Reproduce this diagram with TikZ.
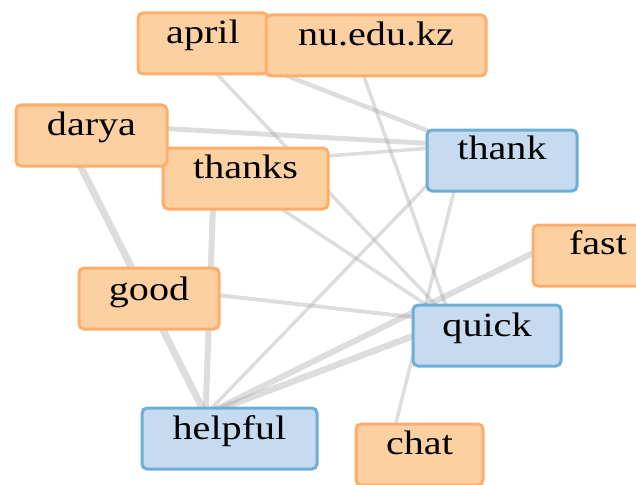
\documentclass[tikz,border=0pt]{standalone}
\usepackage{fontspec}
\setmainfont{Liberation Serif}
\usetikzlibrary{calc,backgrounds}
\definecolor{ofill}{HTML}{FDD0A2}
\definecolor{oline}{HTML}{FDAE6B}
\definecolor{bfill}{HTML}{C6DBEF}
\definecolor{bline}{HTML}{6BAED6}
\newcommand\lbl[1]{\scalebox{1.18}[1]{#1}}
\tikzset{
  box/.style={rectangle, rounded corners=5pt, line width=3pt, anchor=north west,
    inner xsep=0pt, inner ysep=0pt, minimum height=61pt,
    text height=30.5pt, text depth=30.5pt,
    font=\fontsize{34}{37}\selectfont},
  obox/.style={box, draw=oline, fill=ofill},
  bbox/.style={box, draw=bline, fill=bfill},
  link/.style={draw=black!40, draw opacity=0.33, line cap=butt},
}
\begin{document}
\begin{tikzpicture}[x=1pt,y=-1pt]
\useasboundingbox (0,0) rectangle (636,484);
\clip (0,0) rectangle (636,484);
\node[obox, minimum width=165pt] (thanks) at (161.5,146.5) {\lbl{thanks}};
\node[obox, minimum width=151pt] (darya) at (14.5,103.5) {\lbl{darya}};
\node[obox, minimum width=130pt] (april) at (136.5,11.5) {\lbl{april}};
\node[obox, minimum width=220pt] (nu) at (264.5,13.5) {\lbl{nu.edu.kz}};
\node[bbox, minimum width=150pt, text height=29.5pt, text depth=31.5pt] (thank) at (425.5,128.5) {\lbl{thank}};
\node[obox, minimum width=130pt, text height=29.5pt, text depth=31.5pt] (fast) at (531.5,223.5) {\lbl{fast}};
\node[obox, minimum width=140pt, text height=32pt, text depth=29pt] (good) at (77.5,266.5) {\lbl{good}};
\node[bbox, minimum width=148pt, text height=31.5pt, text depth=29.5pt] (quick) at (411.5,303.5) {\lbl{quick}};
\node[bbox, minimum width=175pt, text height=31.5pt, text depth=29.5pt] (helpful) at (140.5,406.5) {\lbl{helpful}};
\node[obox, minimum width=127pt, text height=30.5pt, text depth=30.5pt] (chat) at (354.5,422.5) {\lbl{chat}};
\begin{scope}[on background layer]
\coordinate (pApril) at ($(april.north west)+(42,22)$);
\coordinate (pNu) at ($(nu.north west)+(83,17)$);
\coordinate (pDarya) at ($(darya.north west)+(44,19)$);
\coordinate (pThanks) at ($(thanks.north west)+(53,18)$);
\coordinate (pThank) at ($(thank.north west)+(40,17)$);
\coordinate (pFast) at ($(fast.north west)+(29,16)$);
\coordinate (pGood) at ($(good.north west)+(73,21)$);
\coordinate (pQuick) at ($(quick.north west)+(40,18)$);
\coordinate (pHelpful) at ($(helpful.north west)+(65,8)$);
\coordinate (pChat) at ($(chat.north west)+(37,18)$);
\draw[link, line width=7pt] (pDarya) -- (pHelpful);
\draw[link, line width=6pt] (pThanks) -- (pHelpful);
\draw[link, line width=6pt] (pFast) -- (pHelpful);
\draw[link, line width=6.5pt] (pQuick) -- (pHelpful);
\draw[link, line width=5pt] (pDarya) -- (pThank);
\draw[link, line width=4.5pt] (pApril) -- (pThank);
\draw[link, line width=3.5pt] (pApril) -- (pQuick);
\draw[link, line width=3.5pt] (pNu) -- (pQuick);
\draw[link, line width=3.5pt] (pThanks) -- (pThank);
\draw[link, line width=3.5pt] (pThanks) -- (pQuick);
\draw[link, line width=3.5pt] (pThank) -- (pHelpful);
\draw[link, line width=3.5pt] (pThank) -- (pChat);
\draw[link, line width=4pt] (pGood) -- (pQuick);
\end{scope}
\end{tikzpicture}
\end{document}
